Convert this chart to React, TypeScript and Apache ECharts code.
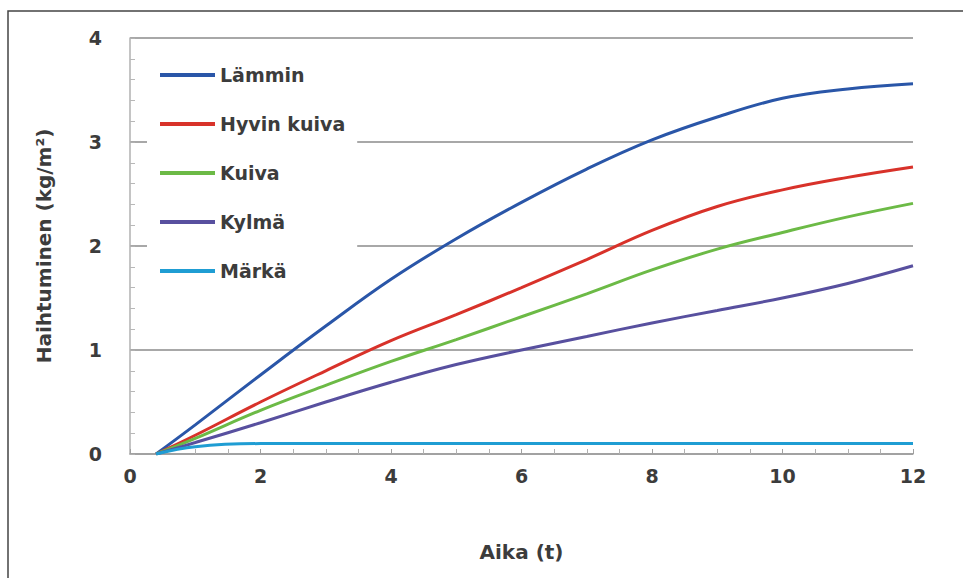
import React, { useEffect, useRef } from "react";
import * as echarts from "echarts";

const hours = [0.4, 1, 2, 3, 4, 5, 6, 7, 8, 9, 10, 11, 12];
const lammin = [0, 0.28, 0.76, 1.23, 1.68, 2.07, 2.42, 2.74, 3.02, 3.24, 3.42, 3.51, 3.56];
const hyvinKuiva = [0, 0.18, 0.5, 0.8, 1.09, 1.34, 1.6, 1.87, 2.15, 2.38, 2.54, 2.66, 2.76];
const kuiva = [0, 0.15, 0.42, 0.66, 0.89, 1.1, 1.32, 1.54, 1.77, 1.97, 2.13, 2.28, 2.41];
const kylma = [0, 0.11, 0.3, 0.5, 0.69, 0.86, 1.0, 1.13, 1.26, 1.38, 1.5, 1.64, 1.81];
const marka = [0, 0.07, 0.1, 0.1, 0.1, 0.1, 0.1, 0.1, 0.1, 0.1, 0.1, 0.1, 0.1];

const seriesNames = ["Lämmin", "Hyvin kuiva", "Kuiva", "Kylmä", "Märkä"];
const seriesValues = [lammin, hyvinKuiva, kuiva, kylma, marka];
const seriesColors = ["#2a56a8", "#d8322a", "#6cba46", "#58509f", "#1f9dd3"];

const FONT = "DejaVu Sans";
const TEXT = "#3c3c3c";

export default function App() {
  const ref = useRef<HTMLDivElement>(null);
  useEffect(() => {
    if (!ref.current) return;
    const chart = echarts.init(ref.current, null, { renderer: "svg" });
    chart.setOption({
      animation: false,
      backgroundColor: "#ffffff",
      graphic: [
        {
          type: "rect",
          z: -10,
          shape: { x: 8, y: 11, width: 1000, height: 620 },
          style: { fill: "none", stroke: "#444444", lineWidth: 1.5 },
        },
      ],
      grid: { left: 130, right: 50, top: 38, bottom: 124 },
      legend: {
        orient: "vertical",
        left: 147,
        top: 55,
        padding: [10, 12, 10, 13],
        backgroundColor: "#ffffff",
        itemWidth: 55,
        itemHeight: 4,
        itemGap: 29,
        icon: "rect",
        textStyle: { fontFamily: FONT, fontSize: 19, fontWeight: "bold", color: TEXT, lineHeight: 20 },
        data: seriesNames,
      },
      xAxis: {
        type: "value",
        min: 0,
        max: 12,
        interval: 2,
        name: "Aika (t)",
        nameLocation: "middle",
        nameGap: 88,
        nameTextStyle: { fontFamily: FONT, fontSize: 20, fontWeight: "bold", color: TEXT },
        axisLine: { show: true, lineStyle: { color: "#a0a0a0", width: 1.5 } },
        axisTick: { show: true, inside: true, length: 5, lineStyle: { color: "#a0a0a0" } },
        minorTick: { show: true, splitNumber: 4, length: 5, lineStyle: { color: "#b0b0b0" } },
        axisLabel: { margin: 12, fontFamily: FONT, fontSize: 19, fontWeight: "bold", color: TEXT },
        splitLine: { show: false },
      },
      yAxis: {
        type: "value",
        min: 0,
        max: 4,
        interval: 1,
        name: "Haihtuminen (kg/m²)",
        nameLocation: "middle",
        nameGap: 76,
        nameRotate: 90,
        nameTextStyle: { fontFamily: FONT, fontSize: 20, fontWeight: "bold", color: TEXT },
        axisLine: { show: true, lineStyle: { color: "#b0b0b0", width: 1.5 } },
        axisTick: { show: true, inside: true, length: 5, lineStyle: { color: "#b0b0b0" } },
        minorTick: { show: true, splitNumber: 5, length: 5, lineStyle: { color: "#b8b8b8" } },
        axisLabel: { margin: 28, fontFamily: FONT, fontSize: 19, fontWeight: "bold", color: TEXT },
        splitLine: { show: true, lineStyle: { color: "#a8a8a8", width: 2 } },
      },
      series: seriesNames.map((name, i) => ({
        name,
        type: "line",
        smooth: 0.4,
        showSymbol: false,
        symbol: "none",
        color: seriesColors[i],
        lineStyle: { width: 3, color: seriesColors[i] },
        data: hours.map((h, j) => [h, seriesValues[i][j]]),
      })),
    });
    return () => chart.dispose();
  }, []);
  return (
    <div
      ref={ref}
      style={{ position: "absolute", left: 0, top: 0, width: 963, height: 578 }}
    />
  );
}
